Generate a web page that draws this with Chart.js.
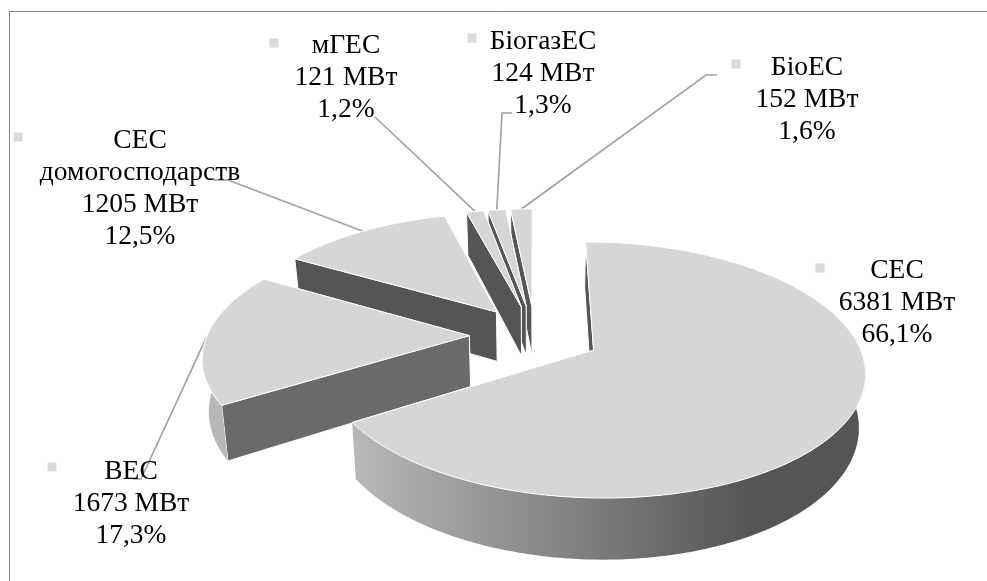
<!DOCTYPE html>
<html>
<head>
<meta charset="utf-8">
<script src="https://cdn.jsdelivr.net/npm/chart.js@4"></script>
<style>
  html, body { margin: 0; padding: 0; background: #fff; }
  #wrap { position: relative; width: 987px; height: 581px; }
</style>
</head>
<body>
<div id="wrap"><canvas id="myChart"></canvas></div>
<script>
const categories = ["СЕС", "ВЕС", "СЕС домогосподарств", "мГЕС", "БіогазЕС", "БіоЕС"];
const capacityMw = [6381, 1673, 1205, 121, 124, 152];
const sharePct = ["66,1", "17,3", "12,5", "1,2", "1,3", "1,6"];

// label blocks: centre x, first baseline, marker square, leader line start + elbow
const labelBoxes = [
  { lines: ["СЕС"], x: 897, y: 278, mark: [820, 268] },
  { lines: ["ВЕС"], x: 131, y: 479, mark: [52, 467], from: [133, 479], via: [141, 479] },
  { lines: ["СЕС", "домогосподарств"], x: 140, y: 148, mark: [18, 137], from: [213, 180], via: [228, 180] },
  { lines: ["мГЕС"], x: 346, y: 53, mark: [274, 43], from: [375, 117] },
  { lines: ["БіогазЕС"], x: 543, y: 49, mark: [472, 38], from: [512, 113], via: [502, 113] },
  { lines: ["БіоЕС"], x: 807, y: 75, mark: [736, 64], from: [717, 75], via: [706, 75] },
];

const sideColors = ["#555555", "#6a6a6a", "#555555", "#555555", "#555555", "#555555"];

// tilted view of the pie plane
const view = { cx: 535, cy: 350, a: 124.9, b: 267, p: 0.156, v0: 0.121, depth: 52, shrink: 0.98 };

function project(u, v) {
  const vv = v - view.v0;
  const w = 1 - view.p * vv;
  return { x: view.cx + (view.b * u) / w, y: view.cy + (view.a * vv) / w, w: w };
}

function lower(pt) {
  return { x: view.cx + (pt.x - view.cx) * view.shrink, y: pt.y + view.depth / pt.w };
}

function explodeOf(arc) {
  return arc.options.offset / 4 / arc.outerRadius;
}

function rimPoint(arc, angle) {
  const mid = (arc.startAngle + arc.endAngle) / 2;
  const e = explodeOf(arc);
  return project(Math.cos(mid) * e + Math.cos(angle), Math.sin(mid) * e + Math.sin(angle));
}

function apexPoint(arc) {
  const mid = (arc.startAngle + arc.endAngle) / 2;
  const e = explodeOf(arc);
  return project(Math.cos(mid) * e, Math.sin(mid) * e);
}

function rimSteps(arc, frontOnly) {
  const n = Math.max(4, Math.ceil((arc.endAngle - arc.startAngle) / 0.015));
  const pts = [];
  for (let i = 0; i <= n; i++) {
    const angle = arc.startAngle + ((arc.endAngle - arc.startAngle) * i) / n;
    if (!frontOnly || Math.sin(angle) > -0.15) pts.push(rimPoint(arc, angle));
  }
  return pts;
}

function fillPoly(ctx, pts, fill, stroke) {
  ctx.beginPath();
  pts.forEach((p, i) => (i ? ctx.lineTo(p.x, p.y) : ctx.moveTo(p.x, p.y)));
  ctx.closePath();
  ctx.fillStyle = fill;
  ctx.fill();
  if (stroke) {
    ctx.strokeStyle = stroke;
    ctx.lineWidth = 1;
    ctx.stroke();
  }
}

const tiltedPie = {
  id: "tiltedPie",
  beforeDraw(chart) {
    const ctx = chart.ctx;
    ctx.save();
    ctx.strokeStyle = "#808080";
    ctx.lineWidth = 1;
    ctx.beginPath();
    ctx.moveTo(9.5, 581);
    ctx.lineTo(9.5, 11.5);
    ctx.lineTo(987, 11.5);
    ctx.stroke();
    ctx.restore();
  },
  beforeDatasetsDraw(chart) {
    const ctx = chart.ctx;
    const arcs = chart.getDatasetMeta(0).data;
    const grad = ctx.createLinearGradient(352, 0, 750, 0);
    grad.addColorStop(0, "#b8b8b8");
    grad.addColorStop(1, "#555555");

    // leader lines sit under the pie
    ctx.save();
    ctx.strokeStyle = "#a0a0a0";
    ctx.lineWidth = 1.6;
    labelBoxes.forEach((box, i) => {
      if (!box.from) return;
      const arc = arcs[i];
      const end = rimPoint(arc, (arc.startAngle + arc.endAngle) / 2);
      ctx.beginPath();
      ctx.moveTo(box.from[0], box.from[1]);
      if (box.via) ctx.lineTo(box.via[0], box.via[1]);
      ctx.lineTo(end.x, end.y);
      ctx.stroke();
    });
    ctx.restore();

    // back slices first
    const order = arcs
      .map((arc, i) => ({ arc, i }))
      .sort((p, q) => Math.sin((p.arc.startAngle + p.arc.endAngle) / 2) - Math.sin((q.arc.startAngle + q.arc.endAngle) / 2));

    ctx.save();
    ctx.lineJoin = "round";
    order.forEach(({ arc, i }) => {
      const apex = apexPoint(arc);
      const rim = rimSteps(arc, false);
      const front = rimSteps(arc, true);
      const first = rim[0];
      const last = rim[rim.length - 1];
      fillPoly(ctx, [apex, last, lower(last), lower(apex)], sideColors[i], "#ffffff");
      fillPoly(ctx, [apex, first, lower(first), lower(apex)], sideColors[i], "#ffffff");
      if (front.length > 1) fillPoly(ctx, front.concat(front.map(lower).reverse()), grad);
      fillPoly(ctx, [apex].concat(rim), arc.options.backgroundColor, "#ffffff");
    });
    ctx.restore();

    // labels
    ctx.save();
    ctx.font = '27.5px "Liberation Serif"';
    ctx.textAlign = "center";
    labelBoxes.forEach((box, i) => {
      const rows = box.lines.concat([capacityMw[i] + " МВт", sharePct[i] + "%"]);
      ctx.fillStyle = "#000000";
      rows.forEach((row, r) => ctx.fillText(row, box.x, box.y + r * 32));
      ctx.fillStyle = "#d9d9d9";
      ctx.fillRect(box.mark[0] - 4.5, box.mark[1] - 4.5, 9, 9);
    });
    ctx.restore();

    return false;
  },
};

new Chart(document.getElementById("myChart"), {
  type: "pie",
  data: {
    labels: categories,
    datasets: [
      {
        data: capacityMw,
        backgroundColor: "#d6d6d6",
        borderWidth: 0,
        offset: 194,
      },
    ],
  },
  options: {
    responsive: true,
    maintainAspectRatio: false,
    animation: false,
    events: [],
    plugins: {
      legend: { display: false },
      tooltip: { enabled: false },
    },
  },
  plugins: [tiltedPie],
});
</script>
</body>
</html>
